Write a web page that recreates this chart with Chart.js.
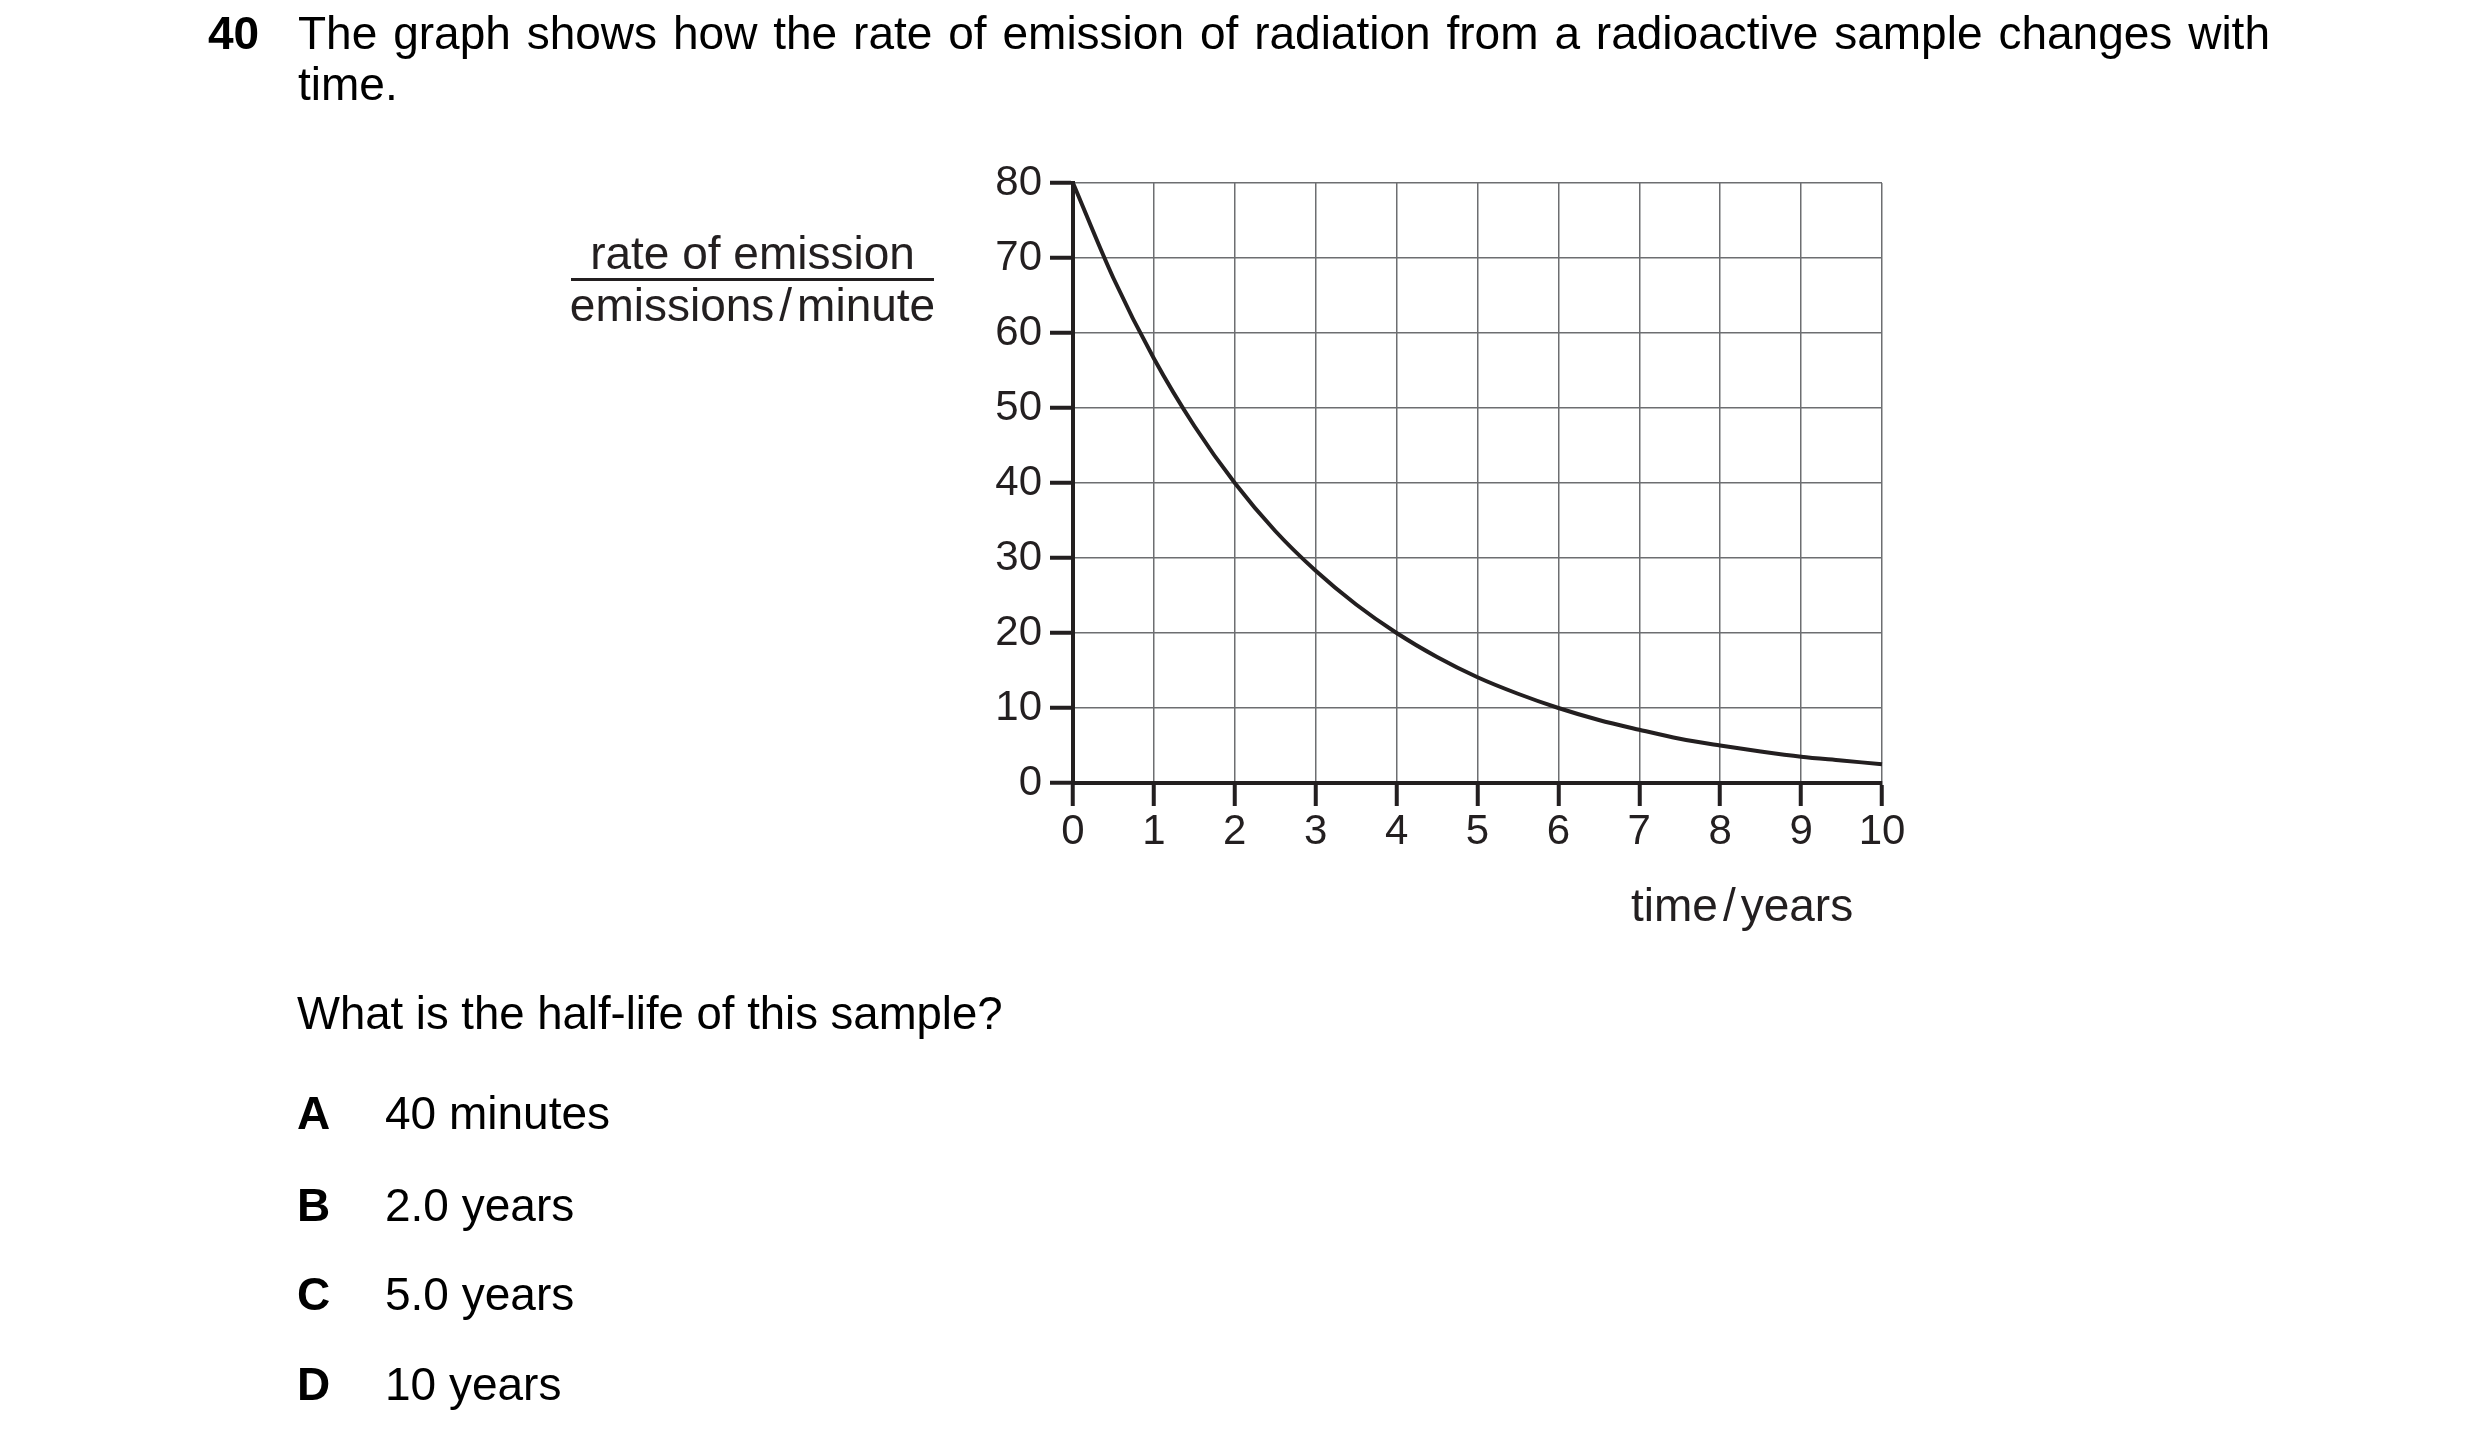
<!DOCTYPE html>
<html>
<head>
<meta charset="utf-8">
<script src="https://cdn.jsdelivr.net/npm/chart.js@4.4.1/dist/chart.umd.min.js"></script>
<style>
  html, body { margin:0; padding:0; background:#fff; }
  body { width:2480px; height:1443px; position:relative; overflow:hidden; font-family:"Liberation Sans", Arial, sans-serif; color:#000; }
  canvas#c { position:absolute; left:0; top:0; }
  .t { position:absolute; white-space:nowrap; line-height:1; }
  .b { font-weight:bold; }
  .frac { position:absolute; background:#231f20; height:2.5px; }
  .sl { margin:0 5px; }
</style>
</head>
<body>
<canvas id="c" width="2480" height="1443"></canvas>

<div class="t b" style="left:208px; top:10px; font-size:46px;">40</div>
<div class="t" id="line1" style="left:298px; top:10px; font-size:46px; width:1972px; text-align:justify; text-align-last:justify;">The graph shows how the rate of emission of radiation from a radioactive sample changes with</div>
<div class="t" style="left:298px; top:61px; font-size:46px;">time.</div>

<div class="t" style="left:566px; top:230px; width:373px; text-align:center; font-size:46px; color:#231f20;">rate of emission</div>
<div class="frac" style="left:571px; top:278px; width:363px;"></div>
<div class="t" style="left:566px; top:282px; width:373px; text-align:center; font-size:46px; color:#231f20;">emissions<span class="sl">/</span>minute</div>

<div class="t" style="left:1631px; top:882px; font-size:46px; color:#231f20;">time<span class="sl">/</span>years</div>

<div class="t" style="left:297px; top:991px; font-size:45.5px;">What is the half-life of this sample?</div>

<div class="t b" style="left:297px; top:1090px; font-size:46px;">A</div>
<div class="t" style="left:385px; top:1090px; font-size:46px;">40 minutes</div>
<div class="t b" style="left:297px; top:1182px; font-size:46px;">B</div>
<div class="t" style="left:385px; top:1182px; font-size:46px;">2.0 years</div>
<div class="t b" style="left:297px; top:1271px; font-size:46px;">C</div>
<div class="t" style="left:385px; top:1271px; font-size:46px;">5.0 years</div>
<div class="t b" style="left:297px; top:1361px; font-size:46px;">D</div>
<div class="t" style="left:385px; top:1361px; font-size:46px;">10 years</div>

<script>
// ---- data ----
const timeYears = [0, 0.5, 1, 1.5, 2, 2.5, 3, 3.5, 4, 4.5, 5, 5.5, 6, 6.5, 7, 7.5, 8, 8.5, 9, 9.5, 10];
const emissionRate = [80, 67.3, 56.6, 47.6, 40, 33.6, 28.3, 23.8, 20, 16.8, 14.1, 11.9, 10, 8.4, 7.1, 5.9, 5, 4.2, 3.5, 3.0, 2.5];
const xTickValues = [0, 1, 2, 3, 4, 5, 6, 7, 8, 9, 10];
const yTickValues = [0, 10, 20, 30, 40, 50, 60, 70, 80];

const ink = '#231f20';
const gridGray = '#6d6e71';

const points = timeYears.map((t, i) => ({ x: t, y: emissionRate[i] }));

new Chart(document.getElementById('c'), {
  type: 'line',
  data: {
    datasets: [{
      data: points,
      borderColor: ink,
      borderWidth: 4,
      pointRadius: 0,
      fill: false,
      cubicInterpolationMode: 'monotone',
      clip: 6
    }]
  },
  options: {
    responsive: false,
    devicePixelRatio: 1,
    animation: false,
    events: [],
    layout: { padding: { left: 973, top: 183, right: 598, bottom: 560 } },
    plugins: { legend: { display: false }, tooltip: { enabled: false }, title: { display: false } },
    scales: {
      x: {
        type: 'linear',
        min: 0, max: 10,
        afterBuildTicks: s => { s.ticks = xTickValues.map(v => ({ value: v })); },
        afterFit: s => { s.height = 100; },
        ticks: { color: ink, font: { family: 'Liberation Sans', size: 42 }, padding: 1, maxRotation: 0, autoSkip: false },
        grid: { color: gridGray, lineWidth: 1.5, drawTicks: true, tickLength: 23, tickColor: ink, tickWidth: 4 },
        border: { display: true, color: ink, width: 4 }
      },
      y: {
        type: 'linear',
        min: 0, max: 80,
        afterBuildTicks: s => { s.ticks = yTickValues.map(v => ({ value: v })); },
        afterFit: s => { s.width = 100; },
        ticks: { color: ink, font: { family: 'Liberation Sans', size: 42 }, padding: 8, autoSkip: false },
        grid: { color: gridGray, lineWidth: 1.5, drawTicks: true, tickLength: 23, tickColor: ink, tickWidth: 4 },
        border: { display: true, color: ink, width: 4 }
      }
    }
  }
});
</script>
</body>
</html>
